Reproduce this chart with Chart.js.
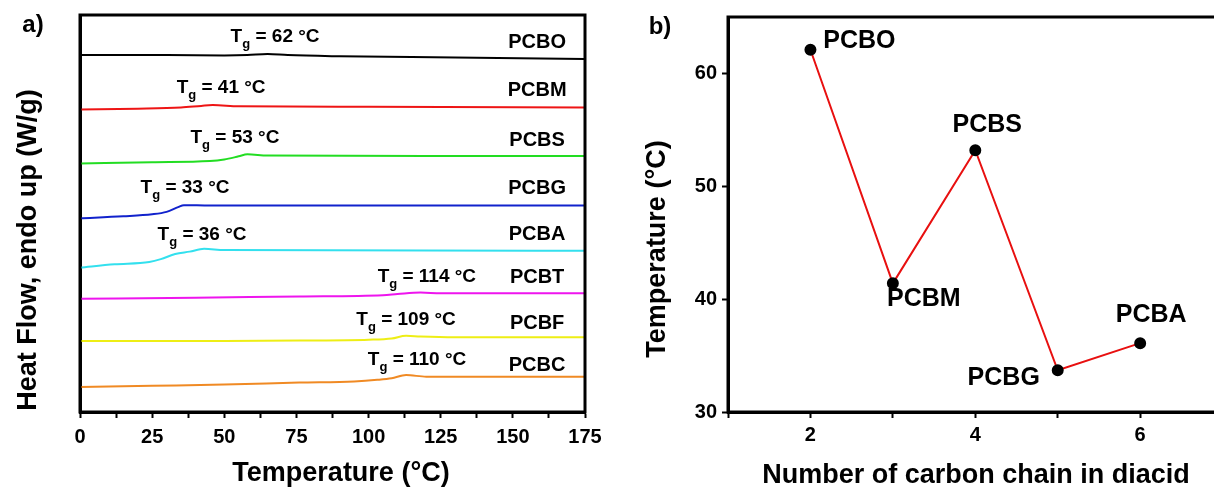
<!DOCTYPE html>
<html lang="en">
<head>
<meta charset="utf-8">
<title>Glass transition of PCB polyesters</title>
<script src="https://cdn.jsdelivr.net/npm/chart.js@4.4.1/dist/chart.umd.min.js"></script>
<style>
  html, body { margin: 0; padding: 0; background: #fff; overflow: hidden; }
  body { width: 1214px; height: 487px; position: relative; }
  .panel { position: absolute; top: 0; }
  #wrapA { left: 0; }
  #wrapB { left: 600px; }
</style>
</head>
<body>
<div class="panel" id="wrapA"><canvas id="dscChart" width="620" height="487"></canvas></div>
<div class="panel" id="wrapB"><canvas id="tgChart" width="640" height="487"></canvas></div>
<script>
// ---- a) DSC second heating traces (temperature in °C, heat flow stacked, arbitrary offset)
var samples  = ['PCBO', 'PCBM', 'PCBS', 'PCBG', 'PCBA', 'PCBT', 'PCBF', 'PCBC'];
var tgValues = [62, 41, 53, 33, 36, 114, 109, 110];

var tempPCBO = [0, 30, 50, 58, 65, 72, 90, 130, 175];
var flowPCBO = [89.9, 89.9, 89.8, 89.9, 90.2, 89.9, 89.6, 89.3, 88.9];
var tempPCBM = [0, 20, 35, 42, 46, 55, 100, 175];
var flowPCBM = [76.2, 76.4, 76.7, 77.1, 77.3, 77.0, 76.9, 76.7];
var tempPCBS = [0, 25, 45, 50, 55, 58, 65, 120, 175];
var flowPCBS = [62.6, 62.9, 63.2, 63.6, 64.4, 64.9, 64.6, 64.5, 64.5];
var tempPCBG = [0, 15, 25, 30, 34, 36, 45, 175];
var flowPCBG = [48.8, 49.3, 49.8, 50.4, 51.6, 52.1, 52.0, 52.0];
var tempPCBA = [0, 12, 24, 28, 33, 38, 43, 50, 120, 175];
var flowPCBA = [36.4, 37.2, 37.8, 38.5, 39.8, 40.4, 41.1, 40.8, 40.7, 40.6];
var tempPCBT = [0, 40, 76, 105, 110, 118, 125, 175];
var flowPCBT = [28.5, 28.8, 29.1, 29.4, 29.7, 30.1, 29.9, 29.9];
var tempPCBF = [0, 50, 76, 100, 108, 113, 118, 130, 175];
var flowPCBF = [17.9, 17.9, 18.0, 18.2, 18.5, 19.2, 19.0, 18.8, 18.8];
var tempPCBC = [0, 25, 50, 76, 95, 103, 108, 113, 120, 175];
var flowPCBC = [6.3, 6.6, 6.9, 7.4, 7.7, 8.1, 8.5, 9.3, 8.9, 8.9];

var tempTicks = [0, 25, 50, 75, 100, 125, 150, 175];

// ---- b) Tg against number of carbons in the diacid
var carbonCount = [2, 3, 4, 5, 6];
var tgMeasured  = [62.1, 41.4, 53.2, 33.7, 36.1];
var tgSamples   = ['PCBO', 'PCBM', 'PCBS', 'PCBG', 'PCBA'];
var tempAxisTicks = [30, 40, 50, 60];

// styling / label placement
var FONT = "'Liberation Sans', Arial, Helvetica, sans-serif";
var traceColors = ['#000000', '#ee1515', '#22dd22', '#1122cc', '#33e0ee', '#ee15ee', '#eeee15', '#f08a24'];
var traceTemps = [tempPCBO, tempPCBM, tempPCBS, tempPCBG, tempPCBA, tempPCBT, tempPCBF, tempPCBC];
var traceFlows = [flowPCBO, flowPCBM, flowPCBS, flowPCBG, flowPCBA, flowPCBT, flowPCBF, flowPCBC];
// where the "Tg = .." notes and sample names sit, in axis units
var tgNoteAt = [[67.6, 94.5], [48.9, 81.6], [53.7, 69.0], [36.4, 56.4], [42.3, 44.6], [120.2, 34.0], [113, 23.2], [116.8, 13.1]];
var nameAtT = 158.4;
var nameAtY = [93.2, 80.9, 68.5, 56.4, 44.6, 33.8, 22.4, 11.8];
// pixel offsets of the sample names from their points in b)
var nameOffsetB = [[49, -9], [31, 16], [12, -25], [-54, 8], [11, -28]];

Chart.defaults.font.family = FONT;
Chart.defaults.color = '#000';

function setFont(ctx, size) {
  ctx.font = 'bold ' + size + 'px ' + FONT;
}

function drawTg(ctx, tg, cx, cy, size) {
  var rest = ' = ' + tg + ' °C';
  var sub = Math.round(size * 0.68);
  setFont(ctx, size);
  var wT = ctx.measureText('T').width;
  var wR = ctx.measureText(rest).width;
  setFont(ctx, sub);
  var wG = ctx.measureText('g').width;
  var x = cx - (wT + wG + wR) / 2;
  ctx.textAlign = 'left';
  ctx.textBaseline = 'middle';
  setFont(ctx, size);
  ctx.fillText('T', x, cy);
  setFont(ctx, sub);
  ctx.fillText('g', x + wT, cy + size * 0.4);
  setFont(ctx, size);
  ctx.fillText(rest, x + wT + wG, cy);
}

function drawText(ctx, text, x, y, size, rotate) {
  ctx.save();
  ctx.translate(x, y);
  if (rotate) ctx.rotate(-Math.PI / 2);
  setFont(ctx, size);
  ctx.textAlign = 'center';
  ctx.textBaseline = 'middle';
  ctx.fillStyle = '#000';
  ctx.fillText(text, 0, 0);
  ctx.restore();
}

function frame(chart) {
  var a = chart.chartArea, ctx = chart.ctx;
  ctx.save();
  ctx.strokeStyle = '#000';
  ctx.lineWidth = 3;
  ctx.strokeRect(a.left, a.top, a.right - a.left, a.bottom - a.top);
  ctx.restore();
}

var dscNotes = {
  id: 'dscNotes',
  afterDraw: function (chart) {
    var ctx = chart.ctx, xs = chart.scales.x, ys = chart.scales.y;
    frame(chart);
    ctx.save();
    ctx.fillStyle = '#000';
    for (var i = 0; i < samples.length; i++) {
      drawTg(ctx, tgValues[i], xs.getPixelForValue(tgNoteAt[i][0]), ys.getPixelForValue(tgNoteAt[i][1]), 19);
      drawText(ctx, samples[i], xs.getPixelForValue(nameAtT), ys.getPixelForValue(nameAtY[i]), 20, false);
    }
    drawText(ctx, 'a)', 33, 25, 24, false);
    drawText(ctx, 'Temperature (°C)', 341, 474, 27, false);
    drawText(ctx, 'Heat Flow, endo up (W/g)', 29, 250, 27, true);
    ctx.restore();
  }
};

var tgNotes = {
  id: 'tgNotes',
  afterDraw: function (chart) {
    var ctx = chart.ctx, xs = chart.scales.x, ys = chart.scales.y;
    frame(chart);
    for (var i = 0; i < tgSamples.length; i++) {
      var px = xs.getPixelForValue(carbonCount[i]) + nameOffsetB[i][0];
      var py = ys.getPixelForValue(tgMeasured[i]) + nameOffsetB[i][1];
      drawText(ctx, tgSamples[i], px, py, 25, false);
    }
    drawText(ctx, 'b)', 60, 27, 24, false);
    drawText(ctx, 'Number of carbon chain in diacid', 376, 476, 27, false);
    drawText(ctx, 'Temperature (°C)', 58, 249, 27, true);
  }
};

var dscSets = samples.map(function (name, i) {
  return {
    label: name,
    data: traceTemps[i].map(function (t, k) { return { x: t, y: traceFlows[i][k] }; }),
    borderColor: traceColors[i],
    borderWidth: 2,
    pointRadius: 0,
    cubicInterpolationMode: 'monotone',
    fill: false
  };
});

new Chart(document.getElementById('dscChart'), {
  type: 'line',
  data: { datasets: dscSets },
  options: {
    responsive: false,
    animation: false,
    layout: { padding: { left: 0, top: 15, right: 35, bottom: 0 } },
    plugins: { legend: { display: false }, tooltip: { enabled: false } },
    scales: {
      x: {
        type: 'linear', min: 0, max: 175,
        afterFit: function (s) { s.height = 75; },
        border: { display: true, color: '#000', width: 3 },
        grid: { display: true, drawOnChartArea: false, drawTicks: true, tickLength: 6, tickColor: '#000', tickWidth: 2 },
        ticks: {
          stepSize: 12.5, autoSkip: false, maxRotation: 0, padding: 7, color: '#000',
          font: { size: 20, weight: 'bold' },
          callback: function (v) { return tempTicks.indexOf(v) >= 0 ? String(v) : ''; }
        }
      },
      y: {
        type: 'linear', min: 0, max: 100,
        afterFit: function (s) { s.width = 80; },
        border: { display: true, color: '#000', width: 3 },
        grid: { display: false },
        ticks: { display: false }
      }
    }
  },
  plugins: [dscNotes]
});

new Chart(document.getElementById('tgChart'), {
  type: 'line',
  data: {
    datasets: [{
      label: 'Tg',
      data: carbonCount.map(function (c, i) { return { x: c, y: tgMeasured[i] }; }),
      borderColor: '#e81010',
      borderWidth: 2,
      pointRadius: 5,
      pointBackgroundColor: '#000',
      pointBorderColor: '#000',
      tension: 0,
      fill: false
    }]
  },
  options: {
    responsive: false,
    animation: false,
    layout: { padding: { left: 0, top: 14, right: 17.4, bottom: 0 } },
    plugins: { legend: { display: false }, tooltip: { enabled: false } },
    scales: {
      x: {
        type: 'linear', min: 1, max: 7,
        afterFit: function (s) { s.height = 75; },
        border: { display: true, color: '#000', width: 3 },
        grid: { display: true, drawOnChartArea: false, drawTicks: true, tickLength: 6, tickColor: '#000', tickWidth: 2 },
        ticks: {
          stepSize: 1, autoSkip: false, maxRotation: 0, padding: 5, color: '#000',
          font: { size: 20, weight: 'bold' },
          callback: function (v) { return v % 2 === 0 ? String(v) : ''; }
        }
      },
      y: {
        type: 'linear', min: 30, max: 65,
        afterFit: function (s) { s.width = 128; },
        afterBuildTicks: function (s) {
          s.ticks = s.ticks.filter(function (t) { return tempAxisTicks.indexOf(t.value) >= 0; });
        },
        border: { display: true, color: '#000', width: 3 },
        grid: { display: true, drawOnChartArea: false, drawTicks: true, tickLength: 6, tickColor: '#000', tickWidth: 2 },
        ticks: { stepSize: 10, padding: 5, color: '#000', font: { size: 20, weight: 'bold' } }
      }
    }
  },
  plugins: [tgNotes]
});
</script>
</body>
</html>
